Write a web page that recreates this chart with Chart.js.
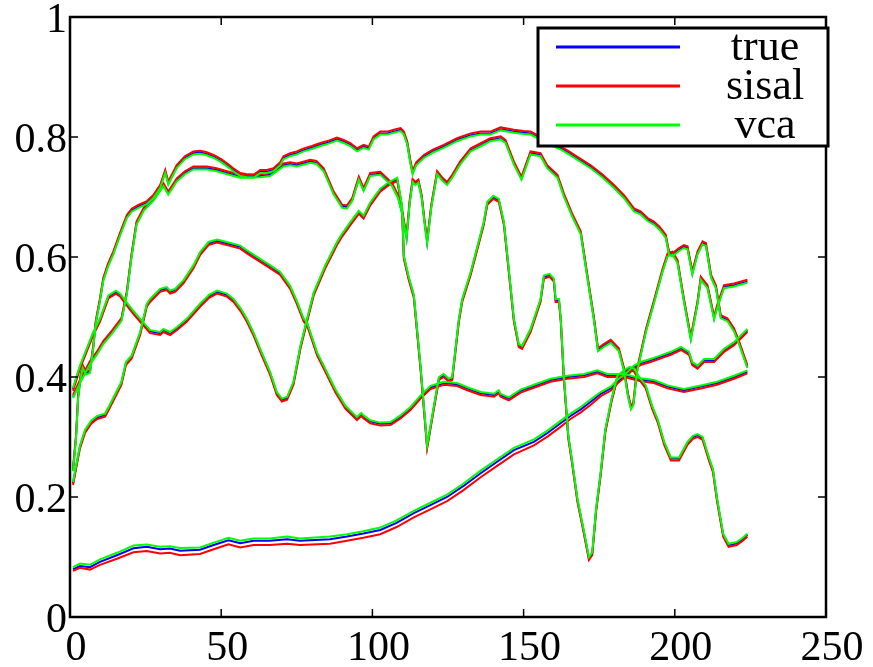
<!DOCTYPE html>
<html>
<head>
<meta charset="utf-8">
<script src="https://cdn.jsdelivr.net/npm/chart.js@4.4.1/dist/chart.umd.min.js"></script>
<style>
  html, body { margin: 0; padding: 0; background: #fff; }
  canvas { display: block; }
</style>
</head>
<body>
<canvas id="chart" width="873" height="667"></canvas>
<script>
// axis ticks
const xTicks = [0, 50, 100, 150, 200, 250];
const yTicks = [0, 0.2, 0.4, 0.6, 0.8, 1];

// legend labels / colours
const methodNames = ['true', 'sisal', 'vca'];
const methodColors = ['#0000ff', '#ff0000', '#00ff00'];

// endmember 1 (top plateau)
const e1Band = [
    1, 2, 2.7, 3.5, 4.2, 5.3, 6.6, 7.7, 8.5, 9.9,
    11, 12.5, 14.3, 16.5, 18.8, 20.5, 22.6, 25.4, 27.5, 29.8,
    31.5, 32.5, 35.3, 38, 40.8, 43, 45, 47.5, 50, 51.9,
    54, 56.3, 58.5, 60.7, 62.9, 65.1, 67.3, 69.5, 70.6, 72.8,
    75, 77.3, 80, 82.8, 85.5, 88.3, 90.5, 92.7, 94.9, 97.1,
    98.8, 100.4, 102.6, 104.9, 107.1, 109.3, 110.4, 111.5, 112.5, 113.3,
    114.5, 117, 120, 123.6, 128, 132.5, 135.8, 139, 142.4, 146.8,
    150, 152.3, 154.5, 157.8, 160, 162.3, 165, 167.8, 172.2, 176,
    179.9, 183.2, 186.5, 188.7, 191, 193.1, 195, 197, 198.1, 199.2,
    201.4, 203, 204.2, 205.8, 207.5, 209.2, 210.3, 212, 213.6, 215.2,
    217.4, 219.6, 221.3, 224
];
const e1True = [
    0.245, 0.30, 0.367, 0.40, 0.417, 0.406, 0.409, 0.45, 0.49, 0.528,
    0.562, 0.585, 0.606, 0.637, 0.667, 0.678, 0.684, 0.69, 0.70, 0.717,
    0.742, 0.723, 0.75, 0.765, 0.773, 0.774, 0.772, 0.767, 0.76, 0.753,
    0.745, 0.737, 0.735, 0.734, 0.742, 0.742, 0.745, 0.755, 0.765, 0.77,
    0.773, 0.778, 0.782, 0.787, 0.791, 0.796, 0.792, 0.787, 0.778, 0.784,
    0.781, 0.798, 0.806, 0.806, 0.809, 0.812, 0.806, 0.79, 0.76, 0.74,
    0.755, 0.767, 0.776, 0.784, 0.795, 0.803, 0.806, 0.806, 0.813, 0.809,
    0.807, 0.806, 0.80, 0.789, 0.786, 0.781, 0.773, 0.764, 0.75, 0.735,
    0.717, 0.70, 0.678, 0.673, 0.662, 0.656, 0.647, 0.634, 0.606, 0.603,
    0.612, 0.617, 0.615, 0.573, 0.606, 0.623, 0.62, 0.567, 0.55, 0.50,
    0.495, 0.478, 0.456, 0.417
];
const e1Sisal = [
    0.248, 0.303, 0.370, 0.403, 0.420, 0.409, 0.412, 0.453, 0.493, 0.531,
    0.565, 0.588, 0.609, 0.640, 0.670, 0.681, 0.687, 0.693, 0.703, 0.720,
    0.745, 0.726, 0.753, 0.768, 0.776, 0.777, 0.775, 0.770, 0.763, 0.756,
    0.748, 0.740, 0.738, 0.737, 0.745, 0.745, 0.748, 0.758, 0.768, 0.773,
    0.776, 0.781, 0.785, 0.790, 0.794, 0.799, 0.795, 0.790, 0.781, 0.787,
    0.784, 0.801, 0.809, 0.809, 0.812, 0.815, 0.809, 0.793, 0.763, 0.743,
    0.758, 0.770, 0.779, 0.787, 0.798, 0.806, 0.809, 0.809, 0.816, 0.812,
    0.810, 0.809, 0.803, 0.792, 0.789, 0.784, 0.776, 0.767, 0.753, 0.738,
    0.720, 0.703, 0.681, 0.676, 0.665, 0.659, 0.650, 0.637, 0.609, 0.606,
    0.615, 0.620, 0.618, 0.576, 0.609, 0.626, 0.623, 0.570, 0.553, 0.503,
    0.498, 0.481, 0.459, 0.420
];
const e1Vca = [
    0.243, 0.298, 0.365, 0.398, 0.415, 0.404, 0.407, 0.448, 0.488, 0.526,
    0.560, 0.583, 0.604, 0.635, 0.665, 0.676, 0.682, 0.688, 0.698, 0.715,
    0.740, 0.721, 0.748, 0.763, 0.771, 0.772, 0.770, 0.765, 0.758, 0.751,
    0.743, 0.735, 0.733, 0.732, 0.740, 0.740, 0.743, 0.753, 0.763, 0.768,
    0.771, 0.776, 0.780, 0.785, 0.789, 0.794, 0.790, 0.785, 0.776, 0.782,
    0.779, 0.796, 0.804, 0.804, 0.807, 0.810, 0.804, 0.788, 0.758, 0.738,
    0.753, 0.765, 0.774, 0.782, 0.793, 0.801, 0.804, 0.804, 0.811, 0.807,
    0.805, 0.804, 0.798, 0.787, 0.784, 0.779, 0.771, 0.762, 0.748, 0.733,
    0.715, 0.698, 0.676, 0.671, 0.660, 0.654, 0.645, 0.632, 0.604, 0.601,
    0.610, 0.615, 0.613, 0.571, 0.604, 0.621, 0.618, 0.565, 0.548, 0.498,
    0.493, 0.476, 0.454, 0.415
];

// endmember 2 (second plateau, two dips near 111 / 118)
const e2Band = [
    1, 3.3, 6.6, 9, 11, 14, 17, 18.8, 20.3, 22,
    24.5, 27.5, 30.9, 32.5, 35.3, 38, 40.8, 45.3, 48.5, 51.9,
    56.3, 58.5, 62.9, 66.2, 70.6, 72.8, 75, 79.5, 81.5, 83.9,
    87.2, 90, 91.6, 93.3, 95.5, 97.1, 99.3, 102.6, 104.3, 106.5,
    108.5, 110, 111.3, 112.3, 113.3, 114.2, 115.2, 116.3, 117.2, 118.1,
    119.5, 121.4, 123, 124.7, 126.5, 129, 132.5, 136, 139, 142.4,
    144, 146.8, 149.3, 152.3, 155.6, 157.8, 161.2, 163.3, 166, 168.9,
    171, 173.3, 174.6, 176.5, 178.8, 181.5, 183.2, 184.5, 185.5, 186.3,
    187.5, 190.5, 193, 196, 197.6, 199.2, 200.9, 203, 205.3, 207.5,
    208.6, 210.8, 213, 214, 216.3, 219.6, 224
];
const e2True = [
    0.367, 0.392, 0.423, 0.44, 0.457, 0.475, 0.495, 0.54, 0.60, 0.656,
    0.68, 0.695, 0.72, 0.706, 0.728, 0.74, 0.748, 0.748, 0.745, 0.74,
    0.734, 0.734, 0.735, 0.737, 0.753, 0.755, 0.753, 0.759, 0.757, 0.745,
    0.706, 0.684, 0.683, 0.695, 0.731, 0.712, 0.737, 0.739, 0.731, 0.72,
    0.70, 0.67, 0.632, 0.69, 0.727, 0.722, 0.726, 0.70, 0.66, 0.625,
    0.685, 0.74, 0.73, 0.722, 0.735, 0.756, 0.778, 0.787, 0.795, 0.798,
    0.792, 0.756, 0.731, 0.773, 0.77, 0.75, 0.734, 0.703, 0.67, 0.64,
    0.57, 0.495, 0.445, 0.452, 0.459, 0.445, 0.412, 0.37, 0.348, 0.355,
    0.41, 0.478, 0.523, 0.578, 0.603, 0.606, 0.592, 0.528, 0.464, 0.523,
    0.564, 0.55, 0.498, 0.517, 0.55, 0.553, 0.559
];
const e2Sisal = [
    0.370, 0.395, 0.426, 0.443, 0.460, 0.478, 0.498, 0.543, 0.603, 0.659,
    0.683, 0.698, 0.723, 0.709, 0.731, 0.743, 0.751, 0.751, 0.748, 0.743,
    0.737, 0.737, 0.738, 0.740, 0.756, 0.758, 0.756, 0.762, 0.760, 0.748,
    0.709, 0.687, 0.686, 0.698, 0.734, 0.715, 0.740, 0.742, 0.734, 0.723,
    0.703, 0.673, 0.635, 0.693, 0.730, 0.725, 0.729, 0.703, 0.663, 0.628,
    0.688, 0.743, 0.733, 0.725, 0.738, 0.759, 0.781, 0.790, 0.798, 0.801,
    0.795, 0.759, 0.734, 0.776, 0.773, 0.753, 0.737, 0.706, 0.673, 0.643,
    0.573, 0.498, 0.448, 0.455, 0.462, 0.448, 0.415, 0.373, 0.351, 0.358,
    0.413, 0.481, 0.526, 0.581, 0.606, 0.609, 0.595, 0.531, 0.467, 0.526,
    0.567, 0.553, 0.501, 0.520, 0.553, 0.556, 0.562
];
const e2Vca = [
    0.365, 0.390, 0.421, 0.438, 0.455, 0.473, 0.493, 0.538, 0.598, 0.654,
    0.678, 0.693, 0.718, 0.704, 0.726, 0.738, 0.746, 0.746, 0.743, 0.738,
    0.732, 0.732, 0.733, 0.735, 0.751, 0.753, 0.751, 0.757, 0.755, 0.743,
    0.704, 0.682, 0.681, 0.693, 0.729, 0.710, 0.735, 0.737, 0.729, 0.718,
    0.698, 0.668, 0.630, 0.688, 0.725, 0.720, 0.724, 0.698, 0.658, 0.623,
    0.683, 0.738, 0.728, 0.720, 0.733, 0.754, 0.776, 0.785, 0.793, 0.796,
    0.790, 0.754, 0.729, 0.771, 0.768, 0.748, 0.732, 0.701, 0.668, 0.638,
    0.568, 0.493, 0.443, 0.450, 0.457, 0.443, 0.410, 0.368, 0.346, 0.353,
    0.408, 0.476, 0.521, 0.576, 0.601, 0.604, 0.590, 0.526, 0.462, 0.521,
    0.562, 0.548, 0.496, 0.515, 0.548, 0.551, 0.557
];

// endmember 3 (deep absorptions near 118 and 172)
const e3Band = [
    1, 3.3, 5.5, 7.7, 9.9, 12.7, 15.2, 16.6, 18.8, 21,
    23.2, 26.5, 29.8, 30.9, 33.1, 35.3, 38.6, 43, 46, 48.6,
    51.9, 54.1, 56.5, 58.5, 60.7, 62.9, 66.2, 68.4, 70.1, 71.8,
    73.9, 76.2, 78.4, 80.6, 84.4, 88.3, 90, 92.7, 95.5, 97.1,
    99.3, 102.6, 105.5, 108.2, 109.8, 110.4, 112, 113.7, 115.9, 118.1,
    120, 122, 123.6, 125.3, 126.4, 128.6, 129.7, 132.5, 136.8, 138,
    140, 141.8, 143.5, 146.8, 148.4, 149.5, 152.3, 155.6, 156.7, 158.6,
    160, 160.6, 161.7, 162.3, 163.3, 164.8, 166, 167.8, 170, 171.6,
    172.7, 174, 175.5, 177, 179, 181, 183.2, 185, 186.5, 188,
    190.4, 192.5, 194.3, 196.5, 198.7, 201.4, 204.2, 206, 207.5, 209.2,
    211.4, 212.6, 214, 216, 217.8, 220.5, 222.5, 224
];
const e3True = [
    0.38, 0.417, 0.445, 0.473, 0.495, 0.534, 0.542, 0.537, 0.522, 0.508,
    0.495, 0.476, 0.473, 0.478, 0.473, 0.481, 0.495, 0.52, 0.535, 0.542,
    0.537, 0.528, 0.512, 0.495, 0.472, 0.445, 0.406, 0.373, 0.362, 0.365,
    0.39, 0.45, 0.495, 0.539, 0.584, 0.623, 0.637, 0.656, 0.675, 0.667,
    0.689, 0.712, 0.723, 0.73, 0.684, 0.60, 0.565, 0.535, 0.417, 0.284,
    0.34, 0.398, 0.403, 0.395, 0.398, 0.495, 0.528, 0.573, 0.656, 0.69,
    0.70, 0.695, 0.656, 0.495, 0.453, 0.45, 0.478, 0.528, 0.567, 0.57,
    0.562, 0.528, 0.528, 0.495, 0.40, 0.30, 0.26, 0.195, 0.14, 0.098,
    0.106, 0.18, 0.24, 0.31, 0.36, 0.40, 0.409, 0.415, 0.412, 0.40,
    0.384, 0.35, 0.328, 0.29, 0.264, 0.264, 0.29, 0.30, 0.303, 0.298,
    0.262, 0.245, 0.195, 0.137, 0.12, 0.123, 0.13, 0.137
];
const e3Sisal = [
    0.377, 0.414, 0.442, 0.470, 0.492, 0.531, 0.539, 0.534, 0.519, 0.505,
    0.492, 0.473, 0.470, 0.475, 0.470, 0.478, 0.492, 0.517, 0.532, 0.539,
    0.534, 0.525, 0.509, 0.492, 0.469, 0.442, 0.403, 0.370, 0.359, 0.362,
    0.387, 0.447, 0.492, 0.536, 0.581, 0.620, 0.634, 0.653, 0.672, 0.664,
    0.686, 0.709, 0.720, 0.727, 0.681, 0.597, 0.562, 0.532, 0.414, 0.281,
    0.337, 0.395, 0.400, 0.392, 0.395, 0.492, 0.525, 0.570, 0.653, 0.687,
    0.697, 0.692, 0.653, 0.492, 0.450, 0.447, 0.475, 0.525, 0.564, 0.567,
    0.559, 0.525, 0.525, 0.492, 0.397, 0.297, 0.257, 0.192, 0.137, 0.095,
    0.103, 0.177, 0.237, 0.307, 0.357, 0.397, 0.406, 0.412, 0.409, 0.397,
    0.381, 0.347, 0.325, 0.287, 0.261, 0.261, 0.287, 0.297, 0.300, 0.295,
    0.259, 0.242, 0.192, 0.134, 0.117, 0.120, 0.127, 0.134
];
const e3Vca = [
    0.382, 0.419, 0.447, 0.475, 0.497, 0.536, 0.544, 0.539, 0.524, 0.510,
    0.497, 0.478, 0.475, 0.480, 0.475, 0.483, 0.497, 0.522, 0.537, 0.544,
    0.539, 0.530, 0.514, 0.497, 0.474, 0.447, 0.408, 0.375, 0.364, 0.367,
    0.392, 0.452, 0.497, 0.541, 0.586, 0.625, 0.639, 0.658, 0.677, 0.669,
    0.691, 0.714, 0.725, 0.732, 0.686, 0.602, 0.567, 0.537, 0.419, 0.286,
    0.342, 0.400, 0.405, 0.397, 0.400, 0.497, 0.530, 0.575, 0.658, 0.692,
    0.702, 0.697, 0.658, 0.497, 0.455, 0.452, 0.480, 0.530, 0.569, 0.572,
    0.564, 0.530, 0.530, 0.497, 0.402, 0.302, 0.262, 0.197, 0.142, 0.100,
    0.108, 0.182, 0.242, 0.312, 0.362, 0.402, 0.411, 0.417, 0.414, 0.402,
    0.386, 0.352, 0.330, 0.292, 0.266, 0.266, 0.292, 0.302, 0.305, 0.300,
    0.264, 0.247, 0.197, 0.139, 0.122, 0.125, 0.132, 0.139
];

// endmember 4 (broad hump at 50, minimum near 100)
const e4Band = [
    1, 2, 3.3, 5, 7, 9, 11.6, 13, 15, 17,
    18.5, 20.4, 23.2, 25.4, 26.5, 29.8, 32, 33.1, 34.8, 37.5,
    40.8, 43, 45.8, 48.6, 51.9, 56.3, 58.5, 62.9, 66, 69.5,
    72.8, 75, 77.3, 78.4, 81.7, 83.9, 87.7, 91.1, 94.9, 96.3,
    97.1, 99.3, 102.6, 106, 109.3, 112.6, 115.9, 119.2, 123.6, 128,
    131.4, 135.8, 140.2, 141.8, 142.4, 145.1, 149, 153.4, 158.9, 164.5,
    170, 174.4, 177.7, 183.2, 188.7, 193.1, 197.6, 203, 208.6, 214,
    219.6, 224
];
const e4True = [
    0.223, 0.25, 0.284, 0.31, 0.325, 0.333, 0.337, 0.35, 0.37, 0.39,
    0.423, 0.434, 0.473, 0.52, 0.528, 0.545, 0.548, 0.542, 0.545, 0.559,
    0.584, 0.606, 0.623, 0.627, 0.623, 0.617, 0.609, 0.595, 0.585, 0.573,
    0.55, 0.525, 0.495, 0.489, 0.439, 0.417, 0.378, 0.35, 0.331, 0.338,
    0.334, 0.326, 0.322, 0.323, 0.334, 0.348, 0.367, 0.383, 0.39, 0.388,
    0.381, 0.373, 0.37, 0.376, 0.37, 0.364, 0.377, 0.385, 0.395, 0.40,
    0.403, 0.409, 0.403, 0.403, 0.396, 0.393, 0.384, 0.378, 0.384, 0.39,
    0.40, 0.409
];
const e4Sisal = [
    0.220, 0.247, 0.281, 0.307, 0.322, 0.330, 0.334, 0.347, 0.367, 0.387,
    0.420, 0.431, 0.470, 0.517, 0.525, 0.542, 0.545, 0.539, 0.542, 0.556,
    0.581, 0.603, 0.620, 0.624, 0.620, 0.614, 0.606, 0.592, 0.582, 0.570,
    0.547, 0.522, 0.492, 0.486, 0.436, 0.414, 0.375, 0.347, 0.328, 0.335,
    0.331, 0.323, 0.319, 0.320, 0.331, 0.345, 0.364, 0.380, 0.387, 0.385,
    0.378, 0.370, 0.367, 0.373, 0.367, 0.361, 0.374, 0.382, 0.392, 0.397,
    0.400, 0.406, 0.400, 0.400, 0.393, 0.390, 0.381, 0.375, 0.381, 0.387,
    0.397, 0.406
];
const e4Vca = [
    0.225, 0.252, 0.286, 0.312, 0.327, 0.335, 0.339, 0.352, 0.372, 0.392,
    0.425, 0.436, 0.475, 0.522, 0.530, 0.547, 0.550, 0.544, 0.547, 0.561,
    0.586, 0.608, 0.625, 0.629, 0.625, 0.619, 0.611, 0.597, 0.587, 0.575,
    0.552, 0.527, 0.497, 0.491, 0.441, 0.419, 0.380, 0.352, 0.333, 0.340,
    0.336, 0.328, 0.324, 0.325, 0.336, 0.350, 0.369, 0.385, 0.392, 0.390,
    0.383, 0.375, 0.372, 0.378, 0.372, 0.366, 0.379, 0.387, 0.397, 0.402,
    0.405, 0.411, 0.405, 0.405, 0.398, 0.395, 0.386, 0.380, 0.386, 0.392,
    0.402, 0.411
];

// endmember 5 (low, slowly rising)
const e5Band = [
    1, 3.3, 6.6, 9.9, 15.5, 21, 25.4, 29.8, 33, 36.4,
    43, 47.5, 52.4, 56.3, 60.7, 66, 71.8, 76, 86, 91.6,
    97, 102.6, 108, 113.7, 119, 124.7, 130, 135.8, 141, 146.8,
    153.4, 158, 162, 165.5, 168.9, 172, 175.5, 178.8, 181, 184.3,
    186.5, 188.7, 192, 195.4, 198.7, 202, 204.7, 205.8, 207.5, 209.7,
    213, 216.3, 219.6, 222, 224
];
const e5True = [
    0.0795, 0.085, 0.083, 0.092, 0.103, 0.1145, 0.117, 0.113, 0.114, 0.1105,
    0.112, 0.12, 0.128, 0.123, 0.127, 0.127, 0.1295, 0.127, 0.1295, 0.134,
    0.139, 0.145, 0.157, 0.173, 0.186, 0.20, 0.218, 0.2395, 0.258, 0.278,
    0.292, 0.307, 0.322, 0.335, 0.346, 0.358, 0.372, 0.381, 0.392, 0.406,
    0.417, 0.423, 0.428, 0.434, 0.44, 0.448, 0.44, 0.423, 0.417, 0.428,
    0.428, 0.445, 0.456, 0.468, 0.478
];
const e5Sisal = [
    0.077, 0.082, 0.079, 0.087, 0.097, 0.108, 0.110, 0.106, 0.107, 0.103,
    0.105, 0.113, 0.121, 0.116, 0.120, 0.120, 0.122, 0.120, 0.122, 0.127,
    0.132, 0.138, 0.150, 0.166, 0.179, 0.193, 0.211, 0.233, 0.251, 0.271,
    0.286, 0.301, 0.316, 0.330, 0.341, 0.353, 0.368, 0.377, 0.389, 0.403,
    0.414, 0.420, 0.425, 0.431, 0.437, 0.445, 0.437, 0.420, 0.414, 0.425,
    0.425, 0.442, 0.453, 0.465, 0.475
];
const e5Vca = [
    0.083, 0.089, 0.087, 0.096, 0.107, 0.119, 0.121, 0.117, 0.118, 0.115,
    0.116, 0.124, 0.132, 0.127, 0.131, 0.131, 0.134, 0.131, 0.134, 0.138,
    0.143, 0.149, 0.161, 0.177, 0.190, 0.204, 0.222, 0.244, 0.262, 0.282,
    0.296, 0.311, 0.326, 0.339, 0.350, 0.362, 0.375, 0.384, 0.395, 0.408,
    0.419, 0.425, 0.430, 0.436, 0.442, 0.450, 0.442, 0.425, 0.419, 0.430,
    0.430, 0.447, 0.458, 0.470, 0.480
];

const endmembers = [
    { band: e1Band, values: [e1True, e1Sisal, e1Vca] },
    { band: e2Band, values: [e2True, e2Sisal, e2Vca] },
    { band: e3Band, values: [e3True, e3Sisal, e3Vca] },
    { band: e4Band, values: [e4True, e4Sisal, e4Vca] },
    { band: e5Band, values: [e5True, e5Sisal, e5Vca] }
];

const FONT = "'Liberation Serif', 'Times New Roman', serif";

// build one line per endmember and method; vca drawn on top, then sisal, then true
const datasets = [];
endmembers.forEach(em => {
    em.values.forEach((vals, m) => {
        datasets.push({
            label: methodNames[m],
            data: em.band.map((b, i) => ({ x: b, y: vals[i] })),
            borderColor: methodColors[m],
            backgroundColor: methodColors[m],
            borderWidth: 2,
            pointRadius: 0,
            showLine: true,
            tension: 0,
            order: 2 - m
        });
    });
});

// frame with inward ticks + boxed legend, drawn over the lines
const framePlugin = {
    id: 'frame',
    afterDatasetsDraw(chart) {
        const ctx = chart.ctx;
        const area = chart.chartArea;
        const xs = chart.scales.x;
        const ys = chart.scales.y;
        ctx.save();
        ctx.strokeStyle = '#000';
        ctx.lineWidth = 2.5;
        ctx.strokeRect(area.left, area.top, area.right - area.left, area.bottom - area.top);

        ctx.lineWidth = 1.5;
        const tl = 8;
        ctx.beginPath();
        xTicks.forEach(v => {
            const px = xs.getPixelForValue(v);
            ctx.moveTo(px, area.bottom); ctx.lineTo(px, area.bottom - tl);
            ctx.moveTo(px, area.top); ctx.lineTo(px, area.top + tl);
        });
        yTicks.forEach(v => {
            const py = ys.getPixelForValue(v);
            ctx.moveTo(area.left, py); ctx.lineTo(area.left + tl, py);
            ctx.moveTo(area.right, py); ctx.lineTo(area.right - tl, py);
        });
        ctx.stroke();

        // legend box
        const box = { x: 538, y: 28, w: 290, h: 118 };
        ctx.fillStyle = '#fff';
        ctx.fillRect(box.x, box.y, box.w, box.h);
        ctx.lineWidth = 3;
        ctx.strokeStyle = '#000';
        ctx.strokeRect(box.x, box.y, box.w, box.h);

        const rowY = [47, 86, 125];
        ctx.font = '44px ' + FONT;
        ctx.textAlign = 'center';
        ctx.textBaseline = 'middle';
        methodNames.forEach((name, m) => {
            ctx.strokeStyle = methodColors[m];
            ctx.lineWidth = 3;
            ctx.beginPath();
            ctx.moveTo(556, rowY[m]);
            ctx.lineTo(680, rowY[m]);
            ctx.stroke();
            ctx.fillStyle = '#000';
            ctx.fillText(name, 765, rowY[m] + 1);
        });
        ctx.restore();
    }
};

new Chart(document.getElementById('chart'), {
    type: 'scatter',
    data: { datasets: datasets },
    options: {
        responsive: false,
        animation: false,
        devicePixelRatio: 1,
        layout: { padding: { top: 17, right: 47, bottom: 0, left: 0 } },
        plugins: {
            legend: { display: false },
            tooltip: { enabled: false }
        },
        scales: {
            x: {
                type: 'linear',
                min: 0,
                max: 250,
                afterBuildTicks: scale => { scale.ticks = xTicks.map(v => ({ value: v })); },
                afterFit: scale => { scale.height = 50; scale.paddingLeft = 0; scale.paddingRight = 0; },
                grid: { display: false, drawTicks: false },
                border: { display: false },
                ticks: {
                    color: '#000',
                    font: { family: FONT, size: 42 },
                    padding: 7,
                    labelOffset: 6,
                    maxRotation: 0,
                    callback: v => String(v)
                }
            },
            y: {
                type: 'linear',
                min: 0,
                max: 1,
                afterBuildTicks: scale => { scale.ticks = yTicks.map(v => ({ value: v })); },
                afterFit: scale => { scale.width = 70; scale.paddingTop = 0; scale.paddingBottom = 0; },
                grid: { display: false, drawTicks: false },
                border: { display: false },
                ticks: {
                    color: '#000',
                    font: { family: FONT, size: 42 },
                    padding: 3,
                    labelOffset: 4,
                    callback: v => String(+v.toFixed(1))
                }
            }
        }
    },
    plugins: [framePlugin]
});
</script>
</body>
</html>
